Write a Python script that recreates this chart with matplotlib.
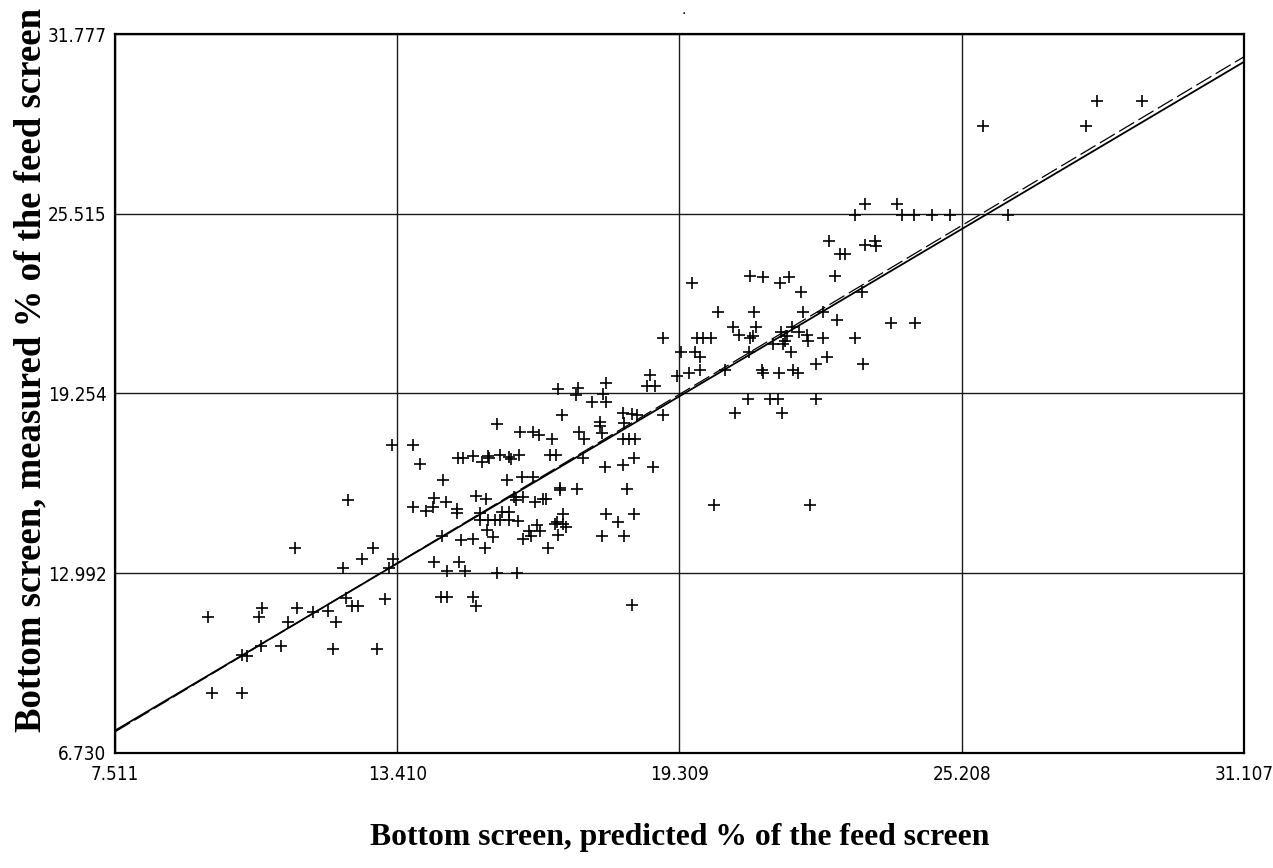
import matplotlib
matplotlib.use("Agg")
import matplotlib.pyplot as plt
import numpy as np

# predicted vs measured share of the bottom screen, % of feed
predicted = [
    9.54, 10.17, 9.46, 10.17, 10.27, 10.56, 10.98, 10.58, 10.52, 11.31,
    11.13, 11.65, 11.96, 12.13, 12.07, 12.99, 12.34, 12.46, 12.59, 13.15,
    11.27, 12.38, 12.28, 12.67, 12.90, 13.32, 13.24, 14.18, 14.32, 14.45,
    13.30, 13.74, 13.89, 13.74, 14.01, 14.16, 14.37, 14.18, 14.43, 14.66,
    14.66, 14.68, 14.78, 14.99, 15.18, 15.31, 15.33, 15.56, 15.75, 15.79,
    15.96, 16.60, 16.73, 15.50, 15.98, 16.25, 16.37, 16.64, 15.70, 16.02,
    16.25, 16.81, 16.81, 15.06, 15.27, 15.85, 15.89, 16.04, 16.29, 16.46,
    16.52, 15.14, 15.14, 15.31, 15.45, 15.60, 15.75, 15.56, 15.75, 15.93,
    16.33, 16.75, 15.29, 15.41, 14.35, 14.74, 14.99, 15.24, 16.16, 16.21,
    16.39, 16.04, 16.71, 16.77, 16.56, 14.70, 14.45, 14.83, 15.50, 15.91,
    14.99, 15.06, 16.87, 16.87, 16.94, 17.77, 18.02, 18.36, 17.69, 18.15,
    18.32, 18.69, 18.63, 18.80, 16.77, 17.19, 17.15, 17.77, 17.71, 17.77,
    17.48, 16.85, 18.13, 18.32, 18.42, 18.96, 17.65, 17.65, 17.21, 17.31,
    17.69, 18.13, 18.25, 18.38, 18.15, 17.29, 17.75, 18.13, 18.36, 18.76,
    17.17, 18.21, 19.26, 18.96, 19.34, 19.51, 19.74, 20.26, 21.03, 21.05,
    21.39, 21.68, 21.79, 22.16, 22.39, 23.14, 20.74, 21.20, 21.37, 22.16,
    20.47, 21.45, 20.03, 22.04, 19.63, 19.74, 20.76, 21.64, 19.68, 19.80,
    19.97, 20.43, 20.55, 20.91, 20.78, 20.85, 21.43, 21.66, 21.81, 21.56,
    21.97, 22.00, 21.26, 21.47, 21.51, 22.31, 22.98, 20.11, 20.87, 21.89,
    22.31, 22.60, 23.73, 24.23, 19.57, 20.78, 21.05, 21.41, 21.60, 21.85,
    22.56, 23.12, 22.43, 22.66, 22.77, 23.19, 23.40, 23.42, 23.19, 23.85,
    22.98, 23.96, 24.21, 24.59, 24.96, 26.18, 25.65, 27.81, 28.04, 28.98,
]
measured = [
    8.82, 8.82, 11.47, 10.14, 10.11, 10.46, 10.46, 11.78, 11.47, 11.78,
    11.29, 11.64, 11.68, 11.29, 10.35, 10.35, 12.13, 11.85, 11.85, 12.09,
    13.87, 15.54, 13.17, 13.49, 13.87, 13.49, 13.17, 13.38, 12.16, 12.16,
    17.46, 17.46, 16.80, 15.30, 15.16, 15.30, 16.24, 15.61, 15.47, 15.23,
    15.09, 17.01, 17.01, 17.08, 16.87, 17.08, 17.01, 17.11, 17.04, 16.97,
    17.11, 17.11, 17.11, 18.19, 17.91, 17.91, 17.81, 17.67, 16.24, 16.35,
    16.35, 15.96, 15.89, 15.68, 15.58, 15.65, 15.54, 15.65, 15.47, 15.58,
    15.58, 15.09, 14.85, 14.85, 14.85, 15.13, 15.13, 14.85, 14.85, 14.81,
    14.67, 14.78, 14.50, 14.25, 14.29, 14.15, 14.19, 13.87, 14.46, 14.29,
    14.46, 14.19, 14.71, 14.32, 13.87, 13.38, 13.07, 13.07, 13.00, 13.00,
    12.16, 11.85, 15.06, 14.71, 14.60, 15.06, 14.78, 15.06, 14.29, 14.29,
    11.89, 19.90, 19.52, 19.52, 19.41, 19.45, 19.20, 19.62, 19.24, 18.96,
    18.96, 18.50, 18.57, 18.54, 18.50, 18.50, 18.26, 18.12, 17.91, 17.67,
    17.88, 17.67, 17.67, 17.67, 18.23, 17.01, 16.69, 16.76, 17.01, 16.69,
    15.93, 15.93, 19.86, 21.19, 20.70, 19.97, 20.07, 20.07, 20.07, 19.97,
    19.97, 20.07, 19.97, 20.28, 20.53, 20.28, 19.06, 19.06, 19.06, 19.06,
    18.57, 18.57, 15.37, 15.37, 20.70, 20.53, 20.70, 20.70, 21.19, 21.19,
    21.19, 21.57, 21.29, 21.57, 21.19, 21.26, 21.40, 21.57, 21.40, 21.26,
    21.29, 21.08, 20.98, 20.98, 21.08, 21.19, 21.19, 22.09, 22.09, 22.09,
    22.09, 21.81, 21.71, 21.71, 23.10, 23.35, 23.31, 23.10, 23.31, 22.79,
    23.35, 22.79, 24.57, 24.11, 24.11, 24.43, 24.57, 24.39, 25.86, 25.86,
    25.47, 25.47, 25.47, 25.47, 25.47, 25.47, 28.57, 28.57, 29.44, 29.44,
]

x_ticks = [7.511, 13.410, 19.309, 25.208, 31.107]
y_ticks = [6.730, 12.992, 19.254, 25.515, 31.777]

# fitted lines: (intercept, slope)
fit_solid = (0.09, 0.9875)
fit_dashed = (-0.02, 0.9967)

fig = plt.figure(figsize=(12.73, 8.68), dpi=100)
ax = fig.add_axes([0.0903, 0.1325, 0.8869, 0.8283])

ax.set_xlim(x_ticks[0], x_ticks[-1])
ax.set_ylim(y_ticks[0], y_ticks[-1])
ax.set_xticks(x_ticks)
ax.set_yticks(y_ticks)
ax.set_xticklabels([f"{v:.3f}" for v in x_ticks])
ax.set_yticklabels([f"{v:.3f}" for v in y_ticks])
ax.grid(True, color="#1a1a1a", linewidth=1.0)
ax.set_axisbelow(True)

ax.tick_params(length=0, labelsize=13.5, colors="black")
ax.tick_params(axis="x", pad=9)
ax.tick_params(axis="y", pad=6)
for lbl in ax.get_xticklabels() + ax.get_yticklabels():
    lbl.set_family("DejaVu Sans")
    lbl.set_fontstretch("condensed")

for sp in ax.spines.values():
    sp.set_linewidth(1.6)
    sp.set_color("black")

ax.plot(predicted, measured, "+", color="black", markersize=9, mew=1.2, zorder=3)

xs = np.array([x_ticks[0], x_ticks[-1]])
a, b = fit_solid
ax.plot(xs, a + b * xs, color="black", linewidth=1.3, zorder=4)
a, b = fit_dashed
ax.plot(xs, a + b * xs, color="black", linewidth=0.9, dashes=(14, 4), zorder=4)

label_font = dict(family="Liberation Serif", fontweight="bold", color="black")
fig.text(0.534, 0.035, "Bottom screen, predicted % of the feed screen",
         ha="center", va="center", fontsize=22.8, **label_font)
fig.text(0.024, 0.574, "Bottom screen, measured % of the feed screen",
         ha="center", va="center", rotation=90, fontsize=26.5, **label_font)
fig.text(0.537, 0.988, ".", ha="center", va="center", fontsize=10)

fig.savefig("out.png", dpi=100)
